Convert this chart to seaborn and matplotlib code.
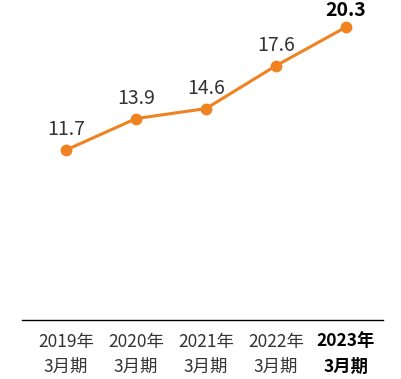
import matplotlib
matplotlib.use("Agg")
import matplotlib.pyplot as plt
import seaborn as sns
import pandas as pd

periods = ["2019年\n3月期", "2020年\n3月期", "2021年\n3月期", "2022年\n3月期", "2023年\n3月期"]
values = [11.7, 13.9, 14.6, 17.6, 20.3]

sns.set_style("white")
plt.rcParams["font.family"] = ["Noto Sans CJK JP", "DejaVu Sans"]

df = pd.DataFrame({"period": periods, "value": values, "idx": range(len(periods))})

fig = plt.figure(figsize=(4.01, 3.79), dpi=100)
ax = fig.add_axes([22 / 401, 59 / 379, 361 / 401, 320 / 379])

orange = "#EF8221"
sns.lineplot(data=df, x="idx", y="value", ax=ax, color=orange, linewidth=2.2,
             marker="o", markersize=8.5, markeredgewidth=0, markeredgecolor=orange)

last = len(values) - 1
for i, v in enumerate(values):
    bold = i == last
    ax.annotate(f"{v:.1f}", (i, v), xytext=(0, 5 if bold else 7), textcoords="offset points",
                ha="center", va="bottom", fontsize=14,
                fontweight="bold" if bold else "normal",
                color="#000000" if bold else "#333333",
                annotation_clip=False)

ax.set_xlim(-0.63, 4.53)
ax.set_ylim(-0.2, 22.2)
ax.set_xticks(range(len(periods)))
ax.set_xticklabels(periods, fontsize=12.5, linespacing=1.55)
for i, lab in enumerate(ax.get_xticklabels()):
    if i == last:
        lab.set_fontweight("bold")
        lab.set_color("#000000")
    else:
        lab.set_color("#333333")
ax.tick_params(axis="x", length=0, pad=9)
ax.set_yticks([])
ax.set_xlabel("")
ax.set_ylabel("")
for side in ["top", "left", "right"]:
    ax.spines[side].set_visible(False)
ax.spines["bottom"].set_color("#000000")
ax.spines["bottom"].set_linewidth(1.0)
ax.patch.set_alpha(0)

fig.savefig("out.png", dpi=100)
